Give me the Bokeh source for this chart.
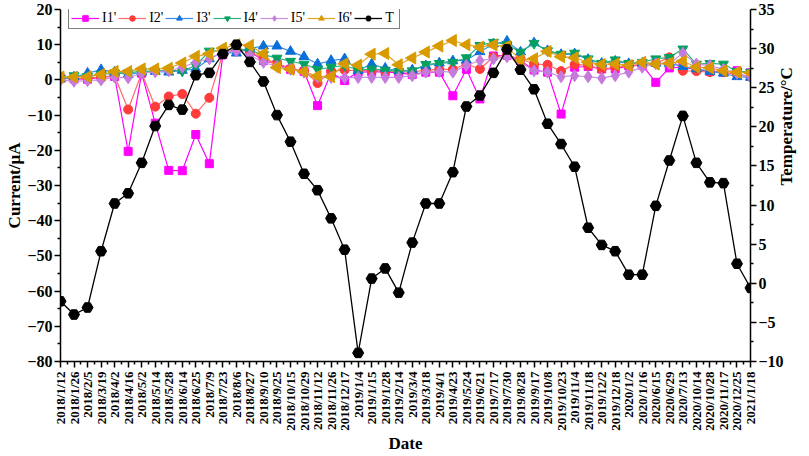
import numpy as np
from bokeh.plotting import figure
from bokeh.models import Range1d, LinearAxis, FixedTicker, Legend, LegendItem
from bokeh.embed import file_html
from bokeh.resources import INLINE

dates = ["2018/1/12", "2018/1/26", "2018/2/5", "2018/3/19", "2018/4/2", "2018/4/16",
         "2018/5/2", "2018/5/14", "2018/5/28", "2018/6/14", "2018/6/25", "2018/7/9",
         "2018/7/23", "2018/8/6", "2018/8/27", "2018/9/10", "2018/9/25", "2018/10/15",
         "2018/10/29", "2018/11/12", "2018/11/26", "2018/12/17", "2019/1/4", "2019/1/15",
         "2019/1/28", "2019/2/14", "2019/3/4", "2019/3/18", "2019/4/1", "2019/4/23",
         "2019/5/24", "2019/6/21", "2019/7/17", "2019/7/30", "2019/8/28", "2019/9/17",
         "2019/10/8", "2019/10/23", "2019/11/4", "2019/11/18", "2019/12/2", "2019/12/18",
         "2020/1/2", "2020/1/16", "2020/6/15", "2020/6/29", "2020/7/13", "2020/10/14",
         "2020/10/28", "2020/11/17", "2020/12/25", "2021/1/18"]

I1 = [0.5, 0.3, 0.2, 0.8, 1.0, -20.3, 1.9, -12.3, -25.7, -25.8, -15.5, -23.8, 7.2,
      9.0, 8.0, 5.5, 4.5, 3.0, 2.4, -7.3, 2.0, -0.2, 2.2, 2.3, 2.3, 2.0,
      1.5, 2.2, 2.2, -4.5, 3.0, -5.4, 6.8, 7.0, 5.5, 2.8, 2.2, -9.7,
      3.6, 3.8, 3.1, 3.1, 4.0, 4.2, -0.7, 3.4, 3.6, 3.0, 2.4, 2.2, 2.6, 2.0]
I2 = [0.5, 0.3, 0.5, 0.8, 1.2, -8.4, 2.0, -7.6, -4.7, -4.0, -9.6, -5.1, 7.5,
      8.8, 8.0, 6.0, 4.8, 3.2, 2.6, -0.9, 2.5, 2.8, 2.6, 2.7, 2.5, 2.3,
      2.2, 2.8, 3.0, 3.0, 4.5, 3.1, 6.5, 7.0, 6.0, 4.5, 4.3, 2.5,
      4.4, 4.1, 3.1, 3.6, 4.0, 4.3, 4.7, 6.4, 2.6, 2.5, 2.2, 2.2, 1.5, 0.9]
I3 = [0.3, 0.8, 1.9, 2.9, 2.2, 1.5, 2.2, 2.4, 2.2, 2.7, 3.1, 6.0, 7.8,
      7.6, 9.0, 9.6, 9.6, 8.1, 6.6, 4.5, 5.5, 6.0, 2.6, 4.5, 3.3, 2.6,
      2.8, 4.0, 4.8, 5.4, 5.6, 8.0, 10.2, 11.0, 7.9, 10.5, 8.3, 7.2,
      7.4, 5.8, 4.7, 5.3, 4.6, 4.7, 4.7, 4.7, 3.8, 3.1, 2.4, 1.9, 0.9, 0.7]
I4 = [0.5, 1.2, 1.0, 1.5, 2.0, 2.0, 2.5, 2.5, 2.8, 2.5, 4.1, 8.2, 8.3,
      9.0, 8.3, 7.2, 6.2, 5.3, 4.5, 3.0, 3.6, 4.1, 2.8, 3.1, 2.8, 2.4,
      2.6, 4.4, 4.7, 5.0, 6.3, 9.8, 10.7, 10.0, 7.9, 10.4, 8.3, 7.3,
      7.6, 6.0, 4.7, 5.7, 4.7, 5.0, 6.0, 6.4, 8.8, 4.5, 4.7, 4.5, 2.4, 2.2]
I5 = [0.0, -0.4, -0.2, 0.0, 0.8, 0.6, 1.9, 2.3, 2.6, 3.6, 5.0, 6.0, 7.9,
      8.2, 7.0, 5.0, 3.8, 3.0, 2.2, 0.8, 0.7, 0.6, 0.7, 0.7, 0.7, 0.7,
      1.2, 2.2, 2.4, 2.2, 4.1, 5.5, 6.0, 6.6, 5.0, 2.6, 2.2, 0.9,
      1.2, 0.9, 0.5, 1.2, 2.2, 3.6, 4.6, 4.5, 7.6, 4.5, 4.1, 3.0, 1.9, 0.9]
I6 = [0.8, 0.8, 0.9, 1.5, 2.4, 2.4, 3.1, 3.1, 3.3, 4.8, 6.7, 7.4, 9.0,
      10.0, 9.8, 7.4, 3.5, 3.0, 2.3, 1.1, 0.9, 4.6, 4.2, 7.3, 7.5, 4.3,
      6.2, 7.9, 9.6, 11.2, 10.0, 9.3, 9.9, 9.5, 5.6, 6.0, 8.1, 6.6,
      6.3, 5.0, 4.4, 4.5, 4.1, 5.0, 4.5, 4.7, 5.3, 3.6, 3.4, 2.6, 2.2, 2.0]
T = [-2.3, -4.0, -3.1, 4.1, 10.2, 11.5, 15.4, 20.1, 22.8, 22.2, 26.6, 26.9, 29.3,
     30.5, 28.3, 25.8, 21.5, 18.1, 14.0, 11.9, 8.3, 4.3, -8.9, 0.6, 1.9, -1.2,
     5.2, 10.2, 10.2, 14.2, 22.6, 24.0, 26.9, 29.9, 27.3, 24.8, 20.4, 17.8,
     14.9, 7.1, 4.9, 4.1, 1.1, 1.1, 9.9, 15.7, 21.4, 15.4, 12.9, 12.8, 2.5, -0.6]

left_ticks = [-80, -70, -60, -50, -40, -30, -20, -10, 0, 10, 20]
right_ticks = [-10, -5, 0, 5, 10, 15, 20, 25, 30, 35]

FONT = "Liberation Serif"

x = list(range(len(dates)))

W, H = 809, 456
BL, BR, BT, BB = 60, 59, 9, 95

p = figure(width=W, height=H, output_backend="svg", toolbar_location=None,
           x_range=Range1d(0, len(dates) - 1), y_range=Range1d(-80, 20),
           min_border_left=BL, min_border_right=BR, min_border_top=BT, min_border_bottom=BB)
p.extra_y_ranges = {"temp": Range1d(-10, 35)}
p.outline_line_color = None
p.grid.visible = False
p.background_fill_color = "white"

series = [
    ("I1'", I1, "#FF00FF", "#FF00FF", "square", 8, 0.0),
    ("I2'", I2, "#FF3B3B", "#FF6A6A", "circle", 9, 0.0),
    ("I3'", I3, "#0A6FD8", "#3A8FE8", "triangle", 10, 0.0),
    ("I4'", I4, "#05A060", "#2EB47A", "inverted_triangle", 10, 0.0),
    ("I5'", I5, "#C57BDC", "#C890E0", "diamond", 12, 0.0),
    ("I6'", I6, "#D99A00", "#E0A820", "triangle", 12, np.pi / 2),
]

items = []
for name, vals, mcol, lcol, marker, size, ang in series:
    l = p.line(x, vals, line_color=lcol, line_width=1.2)
    s = p.scatter(x, vals, marker=marker, size=size, angle=ang,
                  fill_color=mcol, line_color=mcol)
    items.append(LegendItem(label=name, renderers=[l, s]))

lt = p.line(x, T, line_color="black", line_width=1.3, y_range_name="temp")
st = p.scatter(x, T, marker="hex", size=11, fill_color="black", line_color="black",
               y_range_name="temp")
items.append(LegendItem(label="T", renderers=[lt, st]))

# axes
xa = p.xaxis[0]
xa.ticker = FixedTicker(ticks=x, minor_ticks=[i + 0.5 for i in range(len(dates) - 1)])
xa.major_label_overrides = {i: d for i, d in enumerate(dates)}
xa.major_label_orientation = np.pi / 2
xa.axis_label = "Date"

ya = p.yaxis[0]
ya.ticker = FixedTicker(ticks=left_ticks, minor_ticks=[t + 5 for t in left_ticks[:-1]])
ya.axis_label = "Current/μA"

ra = LinearAxis(y_range_name="temp", axis_label="Temperature/°C")
ra.ticker = FixedTicker(ticks=right_ticks, minor_ticks=[t + 2.5 for t in right_ticks[:-1]])
p.add_layout(ra, "right")
try:
    ra.axis_label_orientation = np.pi / 2
except Exception:
    pass

for ax in [xa, ya, ra]:
    ax.axis_line_color = "black"
    ax.axis_line_width = 1.5
    ax.major_tick_line_color = "black"
    ax.major_tick_line_width = 1.5
    ax.minor_tick_line_color = "black"
    ax.minor_tick_line_width = 1.5
    ax.major_tick_in = 0
    ax.major_tick_out = 6
    ax.minor_tick_in = 0
    ax.minor_tick_out = 3
    ax.major_label_text_font = FONT
    ax.major_label_text_font_style = "bold"
    ax.major_label_text_color = "black"
    ax.axis_label_text_font = FONT
    ax.axis_label_text_font_style = "bold"
    ax.axis_label_text_color = "black"
    ax.axis_label_text_font_size = "17px"
    ax.axis_label_standoff = 0

xa.major_label_text_font_size = "13px"
xa.major_label_standoff = 4
for ax in [ya, ra]:
    ax.major_label_text_font_size = "16px"
    ax.major_label_standoff = 2

frame_h = H - BT - BB
legend = Legend(items=items, orientation="horizontal", location=(8, frame_h - 20),
                label_text_font=FONT, label_text_font_size="14px",
                label_text_color="black",
                glyph_width=28, glyph_height=14, label_height=14, label_width=12,
                label_standoff=3, spacing=2, padding=2, margin=0,
                border_line_color="black", border_line_width=1,
                background_fill_color="white", background_fill_alpha=1.0)
p.add_layout(legend, "center")

open("out.html", "w").write(file_html(p, INLINE))
